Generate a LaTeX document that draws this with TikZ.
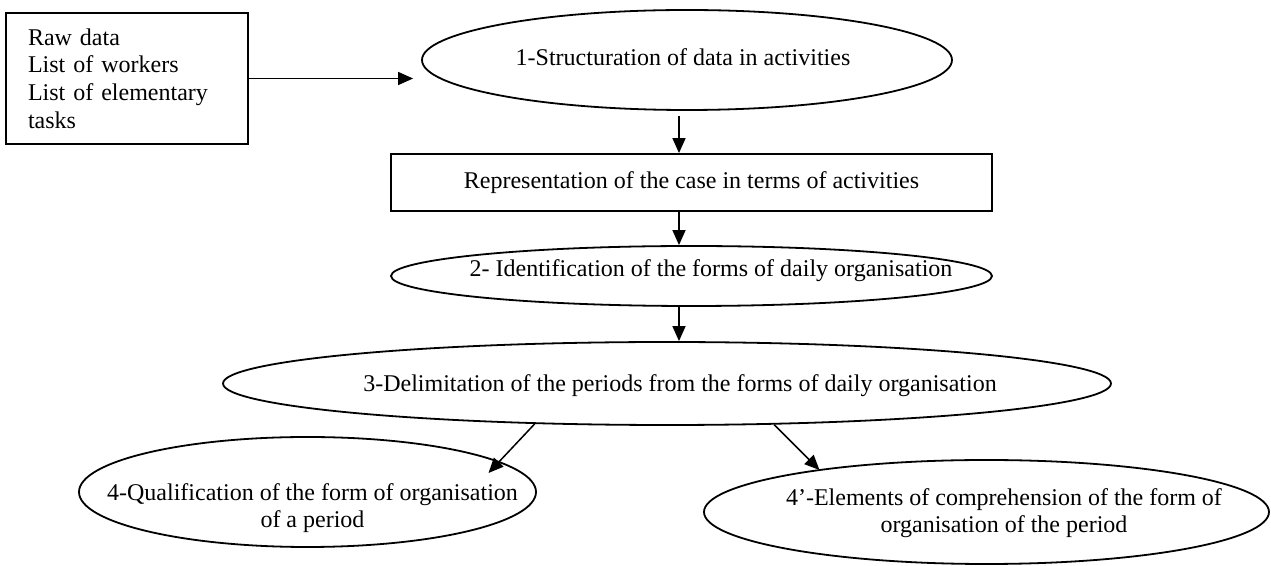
\documentclass[tikz,border=0pt]{standalone}
\usepackage{fontspec}
\setmainfont{Liberation Serif}
\usetikzlibrary{arrows.meta,shapes.geometric}
\begin{document}
\begin{tikzpicture}[x=0.5pt,y=-0.5pt,
  every node/.style={font=\fontsize{12pt}{13.8pt}\selectfont},
  ell/.style={draw, ellipse, line width=0.9pt, inner sep=0pt},
  boxn/.style={draw, rectangle, line width=0.9pt, inner sep=0pt},
  lbl/.style={inner sep=0pt, align=center},
  arr/.style={-{Triangle[length=7.5pt,width=6.5pt]}, line width=0.75pt}]
\useasboundingbox (0,0) rectangle (1271,566);

% boxes
\node[boxn, minimum width=121pt, minimum height=65.5pt, text width=99pt,
      inner xsep=11pt, align=left] (b1) at (127,78.5)
  {Raw data\\List of workers\\List of elementary\\tasks};
\node[boxn, minimum width=300.5pt, minimum height=28.5pt] (b2) at (691.5,182.5)
  {Representation of the case in terms of activities};

% ellipses
\node[ell, minimum width=265pt, minimum height=50pt] (e1) at (687,60) {};
\node[lbl] (t1) at (683,57) {1-Structuration of data in activities};

\node[ell, minimum width=300.5pt, minimum height=30pt] (e2) at (691.5,276) {};
\node[lbl] (t2) at (711,271) {2- Identification of the forms of daily organisation};

\node[ell, minimum width=444pt, minimum height=41.5pt] (e3) at (667,383.5) {};
\node[lbl] (t3) at (680,386) {3-Delimitation of the periods from the forms of daily organisation};

\node[ell, minimum width=228.5pt, minimum height=55pt] (e4) at (307.5,492) {};
\node[lbl] (t4) at (312.5,508) {4-Qualification of the form of organisation\\of a period};

\node[ell, minimum width=282.5pt, minimum height=52pt] (e4b) at (986.5,512) {};
\node[lbl] (t4b) at (1004,513) {4’-Elements of comprehension of the form of\\organisation of the period};

% connectors
\coordinate (ax) at (679,0);
\draw[arr, shorten >=4pt] (b1.east) -- (b1.east -| e1.west);
\draw[arr, shorten <=2.5pt] (e1.south -| ax) -- (b2.north -| ax);
\draw[arr] (b2.south -| ax) -- (e2.north -| ax);
\draw[arr] (e2.south -| ax) -- (e3.north -| ax);
\draw[arr] (e3.197) -- ([shift={(181,-19)}]e4.center);
\draw[arr] (e3.339) -- ([shift={(-167,-42)}]e4b.center);
\end{tikzpicture}
\end{document}
